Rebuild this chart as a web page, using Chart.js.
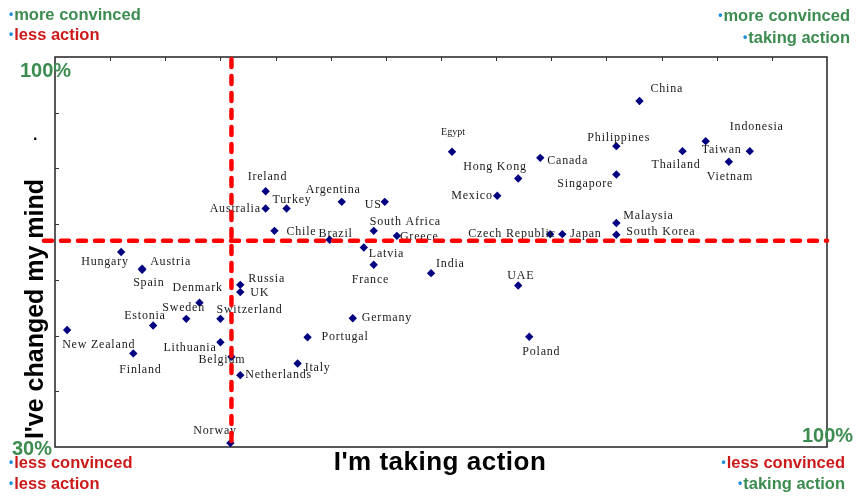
<!DOCTYPE html>
<html>
<head>
<meta charset="utf-8">
<script src="https://cdn.jsdelivr.net/npm/chart.js@4.4.1/dist/chart.umd.min.js"></script>
<style>
  html, body { margin: 0; padding: 0; background: #fff; }
  #wrap { position: relative; width: 857px; height: 496px; overflow: hidden; font-family: "Liberation Sans", Arial, sans-serif; }
  #chartBox { position: absolute; left: 0; top: 0; width: 857px; height: 496px; }
  .note { position: absolute; font-weight: bold; font-size: 16.5px; line-height: 20px; white-space: nowrap; }
  .note .b { color: #1e8fdc; font-size: 12px; vertical-align: 2px; margin-right: 1px; }
  .green { color: #3c8c50; }
  .red { color: #cc1a1a; }
  .pct { position: absolute; font-weight: bold; font-size: 20px; line-height: 24px; color: #3c8c50; white-space: nowrap; }
  .axisTitle { position: absolute; font-weight: bold; color: #000; white-space: nowrap; }
</style>
</head>
<body>
<div id="wrap">
  <div id="chartBox"><canvas id="c"></canvas></div>

  <div class="note green" style="left:9px; top:4px;"><span class="b">•</span>more convinced</div>
  <div class="note red" style="left:9px; top:24px;"><span class="b">•</span>less action</div>

  <div class="note green" style="right:7px; top:5px; text-align:right;"><span class="b">•</span>more convinced</div>
  <div class="note green" style="right:7px; top:27px; text-align:right;"><span class="b">•</span>taking action</div>

  <div class="note red" style="left:9px; top:452px;"><span class="b">•</span>less convinced</div>
  <div class="note red" style="left:9px; top:473px;"><span class="b">•</span>less action</div>

  <div class="note red" style="right:12px; top:452px; text-align:right;"><span class="b">•</span>less convinced</div>
  <div class="note green" style="right:12px; top:473px; text-align:right;"><span class="b">•</span>taking action</div>

  <div class="pct" style="left:20px; top:58px;">100%</div>
  <div class="pct" style="left:12px; top:436px;">30%</div>
  <div class="pct" style="left:802px; top:423px;">100%</div>

  <div class="axisTitle" id="xTitle" style="left:0; width:880px; text-align:center; top:446px; font-size:26px; line-height:30px; letter-spacing:0.5px;">I'm taking action</div>
  <div class="axisTitle" id="yTitle" style="left:34px; top:309px; font-size:25px; line-height:28px; transform: translate(-50%, -50%) rotate(-90deg);">I've changed my mind</div>
  <div class="axisTitle" style="left:33px; top:125px; font-size:16px; line-height:20px;">.</div>
</div>

<script>
// ---- Data (values in %) ----
const countries = [
  "China", "Egypt", "Canada", "Philippines", "Thailand", "Taiwan", "Indonesia", "Vietnam",
  "Hong Kong", "Singapore", "Mexico", "Ireland", "Australia", "Turkey", "Chile", "Argentina",
  "US", "South Africa", "Brazil", "Greece", "Latvia", "France", "India", "UAE",
  "Czech Republic", "Japan", "Malaysia", "South Korea", "Poland", "Hungary", "Austria", "Spain",
  "Russia", "UK", "Denmark", "Sweden", "Estonia", "Switzerland", "New Zealand", "Lithuania",
  "Finland", "Belgium", "Netherlands", "Italy", "Portugal", "Germany", "Norway"
];
const takingAction = [
  83.0, 66.0, 74.0, 80.9, 86.9, 89.0, 93.0, 91.1,
  72.0, 80.9, 70.1, 49.1, 49.1, 51.0, 49.9, 56.0,
  59.9, 58.9, 54.9, 61.0, 58.0, 58.9, 64.1, 72.0,
  74.9, 76.0, 80.9, 80.9, 73.0, 36.0, 37.9, 37.9,
  46.8, 46.8, 43.1, 41.9, 38.9, 45.0, 31.1, 45.0,
  37.1, 46.0, 46.8, 52.0, 52.9, 57.0, 45.9
];
const changedMind = [
  92.1, 83.0, 81.9, 84.0, 83.1, 84.9, 83.1, 81.2,
  78.2, 78.9, 75.1, 75.9, 72.8, 72.8, 68.8, 74.0,
  74.0, 68.8, 67.2, 67.9, 65.8, 62.7, 61.2, 59.0,
  68.2, 68.2, 70.2, 68.1, 49.8, 65.0, 62.0, 61.8,
  59.1, 57.8, 55.9, 53.0, 51.8, 53.0, 51.0, 48.8,
  46.8, 46.2, 42.9, 45.0, 49.7, 53.1, 30.7
];
const xTickValues = [35, 40, 45, 50, 55, 60, 65, 70, 75, 80, 85, 90, 95];
const yTickValues = [40, 50, 60, 70, 80, 90];
const thresholdAction = 46;   // vertical divider
const thresholdMind = 67;     // horizontal divider

// ---- Label placement (pixel offsets from each point, left edge / vertical middle) ----
const labelDx = [
  11, -11, 7, -29, -31, -4, -20, -22,
  -55, -59, -46, -18, -56, -14, 12, -36,
  -20, -4, -11, 3, 5, -22, 5, -11,
  -82, 8, 7, 10, -7, -40, 8, -9,
  8, 10, -27, -24, -29, -4, -5, -57,
  -14, -33, 5, 7, 14, 9, -37
];
const labelDy = [
  -12, -19, 3, -8, 14, 9, -24, 15,
  -12, 9, 0, -14, 0, -9, 1, -12,
  3, -9, -6, 1, 6, 15, -9, -10,
  0, 0, -7, -3, 15, 10, -7, 13,
  -6, 1, -15, -11, -10, -9, 15, 6,
  16, 3, 0, 4, 0, 0, -12
];
const smallLabels = ["Egypt"];

const points = takingAction.map((x, i) => ({ x: x, y: changedMind[i] }));

const framePlugin = {
  id: 'frame',
  beforeDatasetsDraw(chart) {
    const { ctx, chartArea: a, scales } = chart;
    ctx.save();
    ctx.strokeStyle = '#222';
    ctx.lineWidth = 1.5;
    ctx.strokeRect(a.left, a.top, a.right - a.left, a.bottom - a.top);
    ctx.lineWidth = 1;
    ctx.strokeStyle = '#333';
    ctx.beginPath();
    xTickValues.forEach(v => {
      const px = Math.round(scales.x.getPixelForValue(v)) + 0.5;
      ctx.moveTo(px, a.top); ctx.lineTo(px, a.top + 4);
    });
    yTickValues.forEach(v => {
      const py = Math.round(scales.y.getPixelForValue(v)) + 0.5;
      ctx.moveTo(a.left, py); ctx.lineTo(a.left + 4, py);
    });
    ctx.stroke();
    ctx.restore();
  },
  afterDatasetsDraw(chart) {
    const { ctx, chartArea: a, scales } = chart;
    ctx.save();
    // labels
    ctx.fillStyle = '#1a1a1a';
    ctx.textBaseline = 'middle';
    ctx.textAlign = 'left';
    countries.forEach((name, i) => {
      const px = scales.x.getPixelForValue(takingAction[i]);
      const py = scales.y.getPixelForValue(changedMind[i]);
      if (smallLabels.includes(name)) {
        ctx.font = '10px "Liberation Serif", "Times New Roman", serif';
        ctx.letterSpacing = '0px';
      } else {
        ctx.font = '12px "Liberation Serif", "Times New Roman", serif';
        ctx.letterSpacing = '0.8px';
      }
      ctx.fillText(name, px + labelDx[i], py + labelDy[i]);
    });
    ctx.letterSpacing = '0px';
    // red dashed dividers
    ctx.strokeStyle = '#ff0000';
    ctx.lineWidth = 4.5;
    ctx.lineCap = 'round';
    ctx.setLineDash([8, 9]);
    const vx = scales.x.getPixelForValue(thresholdAction);
    const hy = scales.y.getPixelForValue(thresholdMind);
    ctx.beginPath();
    ctx.moveTo(vx, a.top + 2);
    ctx.lineTo(vx, a.bottom);
    ctx.stroke();
    ctx.beginPath();
    ctx.moveTo(a.left - 11, hy);
    ctx.lineTo(a.right, hy);
    ctx.stroke();
    ctx.restore();
  }
};

new Chart(document.getElementById('c'), {
  type: 'scatter',
  data: {
    datasets: [{
      label: 'Countries',
      data: points,
      pointStyle: 'rectRot',
      pointRadius: 4.2,
      backgroundColor: '#000080',
      borderColor: '#000080',
      borderWidth: 0
    }]
  },
  options: {
    responsive: true,
    maintainAspectRatio: false,
    animation: false,
    layout: { padding: { left: 55, top: 57, right: 30, bottom: 49 } },
    plugins: { legend: { display: false }, tooltip: { enabled: false } },
    scales: {
      x: { type: 'linear', min: 30, max: 100, display: false },
      y: { type: 'linear', min: 30, max: 100, display: false }
    }
  },
  plugins: [framePlugin]
});
</script>
</body>
</html>
